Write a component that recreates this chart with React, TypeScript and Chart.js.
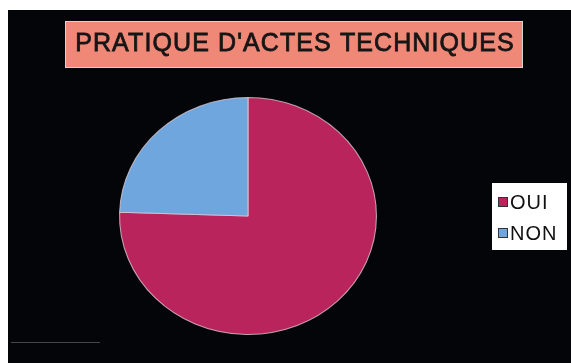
import React, { useEffect, useRef } from "react";
import { Chart, registerables } from "chart.js";
Chart.register(...registerables);

const categories = ["OUI", "NON"];
const values = [75.5, 24.5];
const sliceColors = ["#BA245C", "#6FA6DE"];
const titleText = "PRATIQUE D'ACTES TECHNIQUES";

const FONT = "'Liberation Sans', Arial, sans-serif";

export default function App() {
  const ref = useRef<HTMLCanvasElement>(null);
  useEffect(() => {
    document.body.style.margin = "0";
    document.body.style.background = "#ffffff";

    const decor = {
      id: "decor",
      beforeDraw(chart: any) {
        const { ctx, width, height } = chart;
        ctx.save();
        ctx.fillStyle = "#030508";
        ctx.fillRect(0, 0, width, height);
        // faint scan line at the lower left
        ctx.strokeStyle = "rgba(150,150,150,0.45)";
        ctx.lineWidth = 1;
        ctx.beginPath();
        ctx.moveTo(3, 332.5);
        ctx.lineTo(92, 332.5);
        ctx.stroke();
        // title box
        ctx.fillStyle = "#F08878";
        ctx.fillRect(57, 11, 458, 47);
        ctx.strokeStyle = "#d4d4d4";
        ctx.strokeRect(57.5, 11.5, 457, 46);
        // title text
        ctx.fillStyle = "#161616";
        ctx.strokeStyle = "#161616";
        ctx.lineWidth = 0.8;
        ctx.font = `25px ${FONT}`;
        (ctx as any).letterSpacing = "1.1px";
        ctx.textAlign = "center";
        ctx.textBaseline = "middle";
        ctx.fillText(titleText, 287, 34);
        ctx.strokeText(titleText, 287, 34);
        (ctx as any).letterSpacing = "0px";
        // legend
        const labels: string[] = chart.data.labels;
        const cols: string[] = chart.data.datasets[0].backgroundColor;
        ctx.fillStyle = "#ffffff";
        ctx.fillRect(484, 173, 75, 67);
        ctx.font = `20px ${FONT}`;
        (ctx as any).letterSpacing = "1px";
        ctx.textAlign = "left";
        ctx.textBaseline = "middle";
        labels.forEach((l, i) => {
          const y = 192 + i * 31;
          ctx.fillStyle = cols[i];
          ctx.fillRect(491, y - 4, 8, 8);
          ctx.strokeStyle = "#333333";
          ctx.lineWidth = 1;
          ctx.strokeRect(490.5, y - 4.5, 9, 9);
          ctx.fillStyle = "#111111";
          ctx.fillText(l, 502, y + 1);
        });
        (ctx as any).letterSpacing = "0px";
        ctx.restore();
      },
      beforeDatasetsDraw(chart: any) {
        const { ctx, chartArea } = chart;
        const cx = (chartArea.left + chartArea.right) / 2;
        const cy = (chartArea.top + chartArea.bottom) / 2;
        ctx.save();
        ctx.translate(cx, cy);
        ctx.scale(1.084, 1);
        ctx.translate(-cx, -cy);
      },
      afterDatasetsDraw(chart: any) {
        chart.ctx.restore();
      },
    };

    const chart = new Chart(ref.current!, {
      type: "pie",
      data: {
        labels: categories,
        datasets: [
          {
            data: values,
            backgroundColor: sliceColors,
            borderColor: "rgba(225,205,215,0.75)",
            borderWidth: 1,
          },
        ],
      },
      options: {
        animation: false,
        responsive: false,
        maintainAspectRatio: false,
        layout: { padding: { top: 87, bottom: 28, right: 83, left: 0 } },
        plugins: {
          title: { display: false },
          legend: { display: false },
          tooltip: { enabled: false },
        },
      },
      plugins: [decor],
    });
    return () => chart.destroy();
  }, []);
  return (
    <div style={{ position: "relative", width: 571, height: 363, background: "#fff" }}>
      <canvas
        ref={ref}
        width={563}
        height={353}
        style={{ position: "absolute", left: 8, top: 10, width: 563, height: 353 }}
      />
    </div>
  );
}
